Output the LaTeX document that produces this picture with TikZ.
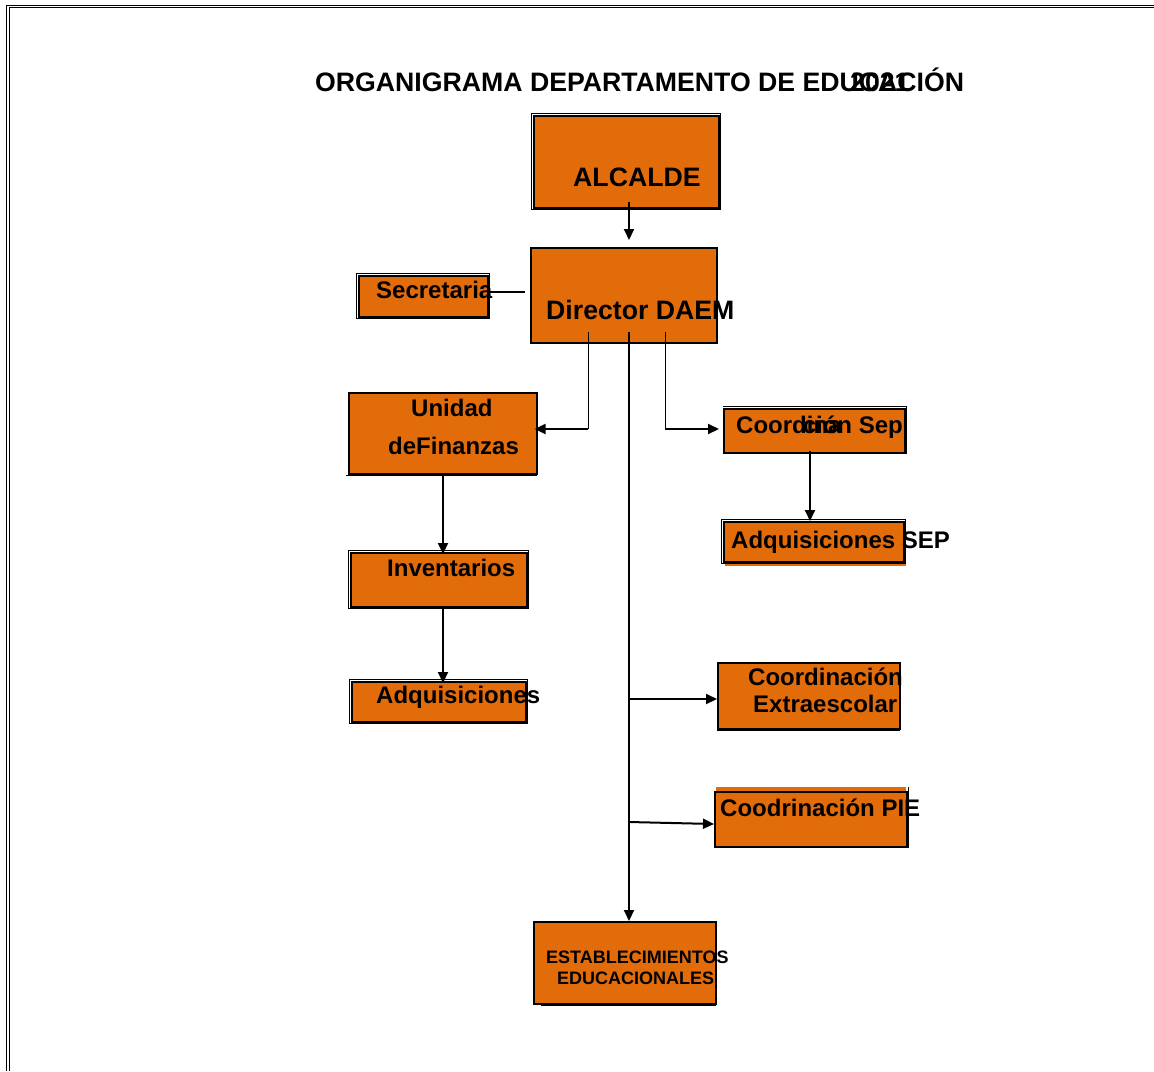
\documentclass[tikz,border=0pt]{standalone}
\usepackage{fontspec}
\setmainfont{Liberation Sans}
\usetikzlibrary{arrows.meta}
\definecolor{boxorange}{RGB}{227,108,10}
\begin{document}
\begin{tikzpicture}[x=1pt,y=-1pt,
  box/.style={draw=black, line width=1.6pt, fill=boxorange, inner sep=0pt, anchor=north west},
  thinrule/.style={draw=black, line width=0.7pt},
  conn/.style={draw=black, line width=2pt},
  thinconn/.style={draw=black, line width=1pt},
  arr/.style={conn, -{Triangle[length=11pt,width=10pt]}},
  tbig/.style={inner sep=0pt, anchor=base west, font=\bfseries\fontsize{26.67}{30}\selectfont},
  tmid/.style={inner sep=0pt, anchor=base west, font=\bfseries\fontsize{24}{28}\selectfont},
  tsmall/.style={inner sep=0pt, anchor=base west, font=\bfseries\fontsize{18}{21}\selectfont}
]
\useasboundingbox (0,0) rectangle (1154,1071);
\fill[white] (0,0) rectangle (1154,1071);
% page frame
\draw[line width=1.5pt] (1154,5.6) -- (6.6,5.6) -- (6.6,1071);
\draw[line width=0.8pt] (1154,7.8) -- (9.3,7.8) -- (9.3,1071);

% extra orange offsets
\fill[boxorange] (725,526) rectangle (906,566);
\fill[boxorange] (716,787) rectangle (906,792);

% boxes
\node[box, minimum width=185pt, minimum height=92pt] (alc) at (533,115) {};
\node[box, minimum width=186pt, minimum height=95pt] (dir) at (530,247) {};
\node[box, minimum width=129pt, minimum height=41pt] (sec) at (358,275) {};
\node[box, minimum width=188pt, minimum height=81pt] (fin) at (348,392) {};
\node[box, minimum width=176pt, minimum height=54pt] (inv) at (350,552) {};
\node[box, minimum width=174pt, minimum height=40pt] (adq) at (351,681) {};
\node[box, minimum width=181pt, minimum height=44pt] (csep) at (723,408) {};
\node[box, minimum width=180pt, minimum height=40pt] (asep) at (723,521) {};
\node[box, minimum width=182pt, minimum height=66pt] (ext) at (717,662) {};
\node[box, minimum width=192pt, minimum height=55pt] (pie) at (714,791) {};
\node[box, minimum width=182pt, minimum height=82pt] (est) at (533,921) {};

% thin outer rules
\draw[thinrule] (531,113) rectangle (720,209);
\draw[thinrule] (356,273) rectangle (489,318);
\draw[thinrule] (346,475) -- (537,475);
\draw[thinrule] (348,550) rectangle (528,608);
\draw[thinrule] (349,679) rectangle (527,723);
\draw[thinrule] (723,406) -- (906,406) -- (906,454);
\draw[thinrule] (721,519) rectangle (905,563);
\draw[thinrule] (717,730) -- (900,730);
\draw[thinrule] (908,787) -- (908,848);
\draw[thinrule] (541,1005) -- (716,1005);

% connector coordinates
\coordinate (trunk) at (629,0);
\coordinate (lb) at (588,429);
\coordinate (rb) at (665,429);
\coordinate (sx) at (810,0);
\coordinate (fx) at (443,0);
\coordinate (s1) at (525,292);
\coordinate (e1) at (629,699);
\coordinate (p1) at (629,822);

% connectors
\draw[arr, shorten >=7pt] ([yshift=7pt]alc.south -| trunk) -- (dir.north -| trunk);
\draw[conn] (s1) -- (sec.east |- s1);
\draw[arr] ([yshift=12pt]dir.south -| trunk) -- (est.north -| trunk);
\draw[thinconn] ([yshift=12pt]dir.south -| lb) -- (lb);
\draw[arr] (lb) -- ([xshift=-3pt]fin.east |- lb);
\draw[thinconn] ([yshift=12pt]dir.south -| rb) -- (rb);
\draw[arr] (rb) -- ([xshift=-4pt]csep.west |- rb);
\draw[arr] ([yshift=3pt]csep.south -| sx) -- (asep.north -| sx);
\draw[arr] (fin.south -| fx) -- ([yshift=-2pt]inv.north -| fx);
\draw[arr] (inv.south -| fx) -- ([yshift=-2pt]adq.north -| fx);
\draw[arr] (e1) -- (ext.west |- e1);
\draw[arr] (p1) -- ([yshift=-2pt]pie.west |- p1);

% texts
\node[tbig] (title) at (315,91) {ORGANIGRAMA DEPARTAMENTO DE EDUCACIÓN};
\node[tbig] (year) at (850,91) {2021};
\node[tbig] (talc) at (573,186) {ALCALDE};
\node[tbig] (tdir) at (546,319) {Director DAEM};
\node[tmid] (tsec) at (376,298) {Secretaria};
\node[tmid] (tfin1) at (411,416) {Unidad};
\node[tmid] (tfin2) at (388,454) {deFinanzas};
\node[tmid] (tinv) at (387,576) {Inventarios};
\node[tmid] (tadq) at (376,703) {Adquisiciones};
\node[tmid] (tcsep1) at (736,433) {Coordina};
\node[tmid, anchor=base east] (tcsep2) at (903,433) {ción Sep};
\node[tmid] (tasep) at (731,548) {Adquisiciones SEP};
\node[tmid] (text1) at (748,685) {Coordinación};
\node[tmid] (text2) at (753,712) {Extraescolar};
\node[tmid] (tpie) at (720,816) {Coodrinación PIE};
\node[tsmall] (test1) at (546,963) {ESTABLECIMIENTOS};
\node[tsmall] (test2) at (557,984) {EDUCACIONALES};
\end{tikzpicture}
\end{document}
